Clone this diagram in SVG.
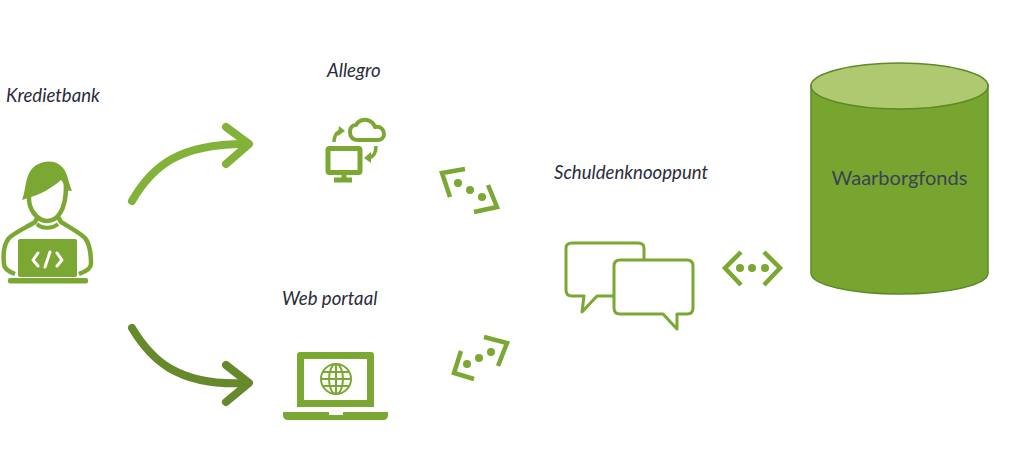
<svg xmlns="http://www.w3.org/2000/svg" width="1024" height="466" viewBox="0 0 1024 466">
<style>
.lbl{font-family:"Lato","Liberation Sans",sans-serif;font-style:italic;font-size:18.600px;fill:#2a2c3c}
.ln{fill:none;stroke:#7ba733;stroke-linecap:butt;stroke-linejoin:round}
.f{fill:#7ba733}
</style>
<rect width="1024" height="466" fill="#fff"/>
<g id="connectors" fill="none" stroke-linecap="round" stroke-linejoin="round" stroke-width="8">
<g stroke="#82b238"><path d="M132 201C152 166 180 143 248 144"/><path d="M226 127L249 144L226 164"/></g>
<g stroke="#668a2b"><path d="M132 328C150 358 176 387 248 383"/><path d="M226 365L249 383L226 402"/></g>
</g>
<g id="kredietbank">
<text class="lbl" x="6" y="102">Kredietbank</text>
<path class="f" d="M22 200C26 190 25 178 31 170C38 161 52 159 60 165C68 171 68 182 72 191L64 190C64 184 63 182 61 180C52 188 41 194 31 197Z"/>
<path class="ln" stroke-width="4.500" d="M29 196C28 210 38 221 47 221C57 221 66 211 66 186"/>
<path class="ln" stroke-width="4.500" d="M15 274C7 271 4 268 4 264C3 255 4 244 9 238C14 233 27 227 35 222L38 217M58 217L61 222C69 227 80 233 85 238C90 244 91 255 91 264C91 268 87 271 79 274"/>
<path class="ln" stroke-width="4" d="M37 224C42 229 52 229 58 224"/>
<rect class="f" x="18" y="239" width="59" height="38" rx="2"/>
<rect class="f" x="8" y="278" width="80" height="5.500" rx="2"/>
<g fill="none" stroke="#fff" stroke-width="3" stroke-linecap="round" stroke-linejoin="round"><path d="M38 253L33 260L38 266M57 253L62 260L57 266M50 252L45 267"/></g>
</g>
<g id="allegro">
<text class="lbl" x="327" y="77">Allegro</text>
<rect class="ln" x="328" y="148.500" width="32" height="24" rx="1.500" stroke-width="5"/>
<path class="ln" stroke-width="5" d="M344 173V179M334 180H352"/>
<path class="ln" stroke-width="4" d="M358 140C352 140 350 136 350 132C350 128 352 125 356 125C358 121 363 119 367 120C371 121 374 124 375 127C381 126 384 130 384 134C384 138 381 140 378 140Z"/>
<path class="ln" stroke-width="3.500" d="M334 142C334 137 336 133 340 131"/>
<path class="f" d="M339 126L345 131L338 136Z"/>
<path class="ln" stroke-width="3.500" d="M376 146C376 153 373 157 369 158"/>
<path class="f" d="M371 152L364 158L371 163Z"/>
</g>
<g id="link-top">
<path class="ln" stroke-width="4.500" style="stroke-linejoin:miter" d="M465 169L442 173L450 197M488 185L497 207L474 212"/>
<circle class="f" cx="458" cy="183" r="4"/><circle class="f" cx="470" cy="190" r="4"/><circle class="f" cx="482" cy="197" r="4"/>
</g>
<g id="web-portaal">
<text class="lbl" x="282" y="305">Web portaal</text>
<path class="f" fill-rule="evenodd" d="M300 352H371Q374 352 374 355V407H297V355Q297 352 300 352ZM304 359V400H367V359Z"/>
<path class="f" d="M283 412H329V415H343V412H388V415Q388 420 383 420H288Q283 420 283 415Z"/>
<g fill="none" stroke="#7ba733" stroke-width="2"><circle cx="336" cy="379" r="15"/><ellipse cx="336" cy="379" rx="7" ry="15"/><path d="M336 364V394M321 379H351M323 372H349M323 386H349"/></g>
</g>
<g id="link-bottom">
<path class="ln" stroke-width="4.500" style="stroke-linejoin:miter" d="M461 351L454 373L474 379M484 337L507 343L498 366"/>
<circle class="f" cx="467" cy="364" r="4"/><circle class="f" cx="479" cy="358" r="4"/><circle class="f" cx="491" cy="352" r="4"/>
</g>
<g id="schuldenknooppunt">
<text class="lbl" x="554" y="179">Schuldenknooppunt</text>
<path class="ln" stroke-width="3" d="M614 296H597L582 312L584 296H572Q566 296 566 290V248Q566 243 572 243H638Q644 243 644 248V260"/>
<path class="ln" stroke-width="3" d="M620 260H687Q693 260 693 266V308Q693 314 687 314H677V329L663 314H620Q614 314 614 308V266Q614 260 620 260Z"/>
</g>
<g id="link-right">
<path class="ln" stroke-width="4.500" style="stroke-linejoin:miter" d="M741 252L725 268L741 285M764 252L780 268L764 285"/>
<circle class="f" cx="740" cy="268" r="4"/><circle class="f" cx="752" cy="268" r="4"/><circle class="f" cx="765" cy="268" r="4"/>
</g>
<g id="waarborgfonds">
<path d="M811 85V273C811 285 851 294 899.500 294C948 294 988 285 988 273V85Z" fill="#78a52f" stroke="#5b8a26" stroke-width="1.500"/>
<ellipse cx="899.500" cy="86" rx="88.500" ry="23" fill="#afc970" stroke="#5b8a26" stroke-width="1.500"/>
<text x="899.500" y="185" text-anchor="middle" font-family="Lato,'Liberation Sans',sans-serif" font-size="20" fill="#3a4257">Waarborgfonds</text>
</g>
</svg>
